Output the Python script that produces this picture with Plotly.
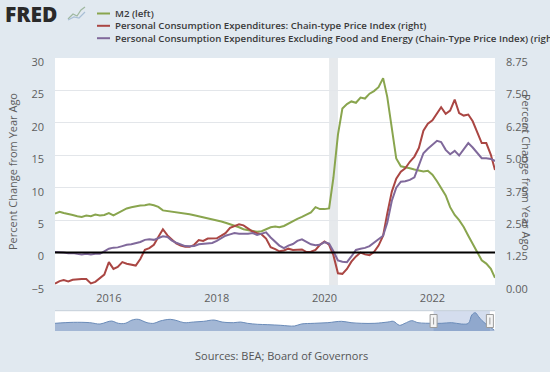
import pandas as pd
import plotly.graph_objects as go

# ---------------- data ----------------
dates = pd.date_range("2015-01-01", "2023-03-01", freq="MS")

m2_yoy = [
    6.0, 6.3, 6.1, 6.0, 5.8, 5.6, 5.5, 5.7, 5.6, 5.85, 5.7, 5.8,
    6.1, 5.75, 6.1, 6.4, 6.8, 7.0, 7.15, 7.25, 7.3, 7.45, 7.3, 7.05,
    6.5, 6.4, 6.4, 6.3, 6.2, 6.0, 5.9, 5.75, 5.6, 5.5, 5.3, 5.1,
    5.0, 4.8, 4.6, 4.4, 4.2, 3.9, 3.6, 3.5, 3.3, 3.2, 3.3, 3.6,
    3.9, 4.0, 3.9, 4.1, 4.5, 4.9, 5.2, 5.5, 5.8, 6.2, 7.0, 6.7,
    6.7, 6.8, 11.5, 18.2, 22.2, 22.9, 23.3, 23.1, 23.9, 23.75, 24.5, 24.9,
    25.5, 26.9, 24.0, 19.0, 14.5, 13.3, 13.2, 13.0, 12.8, 12.6, 12.5, 12.6,
    12.0, 11.0, 10.0, 8.8, 7.0, 5.8, 5.0, 3.95, 2.6, 1.3, 0.0, -1.2,
    -1.7, -2.5, -3.9,
]

pce_yoy = [
    0.05, 0.15, 0.19, 0.14, 0.20, 0.23, 0.23, 0.23, 0.06, 0.12, 0.25, 0.40,
    0.88, 0.62, 0.70, 0.88, 0.82, 0.79, 0.75, 1.00, 1.36, 1.42, 1.55, 1.85,
    2.15, 1.91, 1.75, 1.60, 1.52, 1.47, 1.47, 1.55, 1.73, 1.70, 1.79, 1.79,
    1.80, 1.90, 2.00, 2.20, 2.27, 2.34, 2.30, 2.17, 2.06, 2.00, 1.95, 1.79,
    1.46, 1.38, 1.30, 1.33, 1.40, 1.35, 1.37, 1.37, 1.27, 1.28, 1.35, 1.55,
    1.68, 1.55, 1.15, 0.45, 0.43, 0.62, 0.90, 1.10, 1.25, 1.18, 1.15, 1.27,
    1.52, 1.90, 2.75, 3.60, 4.10, 4.37, 4.50, 4.75, 4.95, 5.28, 5.95, 6.22,
    6.35, 6.60, 6.85, 6.60, 6.72, 7.15, 6.63, 6.53, 6.57, 6.31, 5.86, 5.47,
    5.47, 5.02, 4.43,
]

core_pce_yoy = [
    1.27, 1.27, 1.25, 1.22, 1.23, 1.20, 1.18, 1.20, 1.18, 1.20, 1.20, 1.30,
    1.40, 1.44, 1.45, 1.50, 1.55, 1.57, 1.60, 1.66, 1.74, 1.76, 1.74, 1.80,
    1.88, 1.85, 1.72, 1.63, 1.57, 1.50, 1.49, 1.50, 1.57, 1.58, 1.60, 1.62,
    1.70, 1.80, 1.90, 1.95, 2.00, 1.98, 1.97, 1.98, 2.00, 1.93, 1.98, 2.03,
    1.83, 1.65, 1.52, 1.42, 1.52, 1.58, 1.70, 1.76, 1.65, 1.57, 1.53, 1.55,
    1.65, 1.60, 1.30, 0.95, 0.90, 0.88, 1.10, 1.35, 1.40, 1.43, 1.50, 1.63,
    1.75, 1.90, 2.40, 3.25, 3.75, 3.98, 4.00, 4.05, 4.15, 4.63, 5.08, 5.25,
    5.40, 5.56, 5.51, 5.21, 5.04, 5.17, 4.99, 5.21, 5.47, 5.30, 5.08, 4.89,
    4.89, 4.86, 4.78,
]

recession = ["2020-02-01", "2020-04-01"]

# navigator (long M2 history silhouette)
nav_years = [1959.5, 1962.2, 1964.6, 1966.1, 1967.1, 1967.8, 1968.8, 1969.8, 1970.8, 1971.7,
             1973.0, 1974.0, 1974.9, 1976.4, 1977.4, 1978.4, 1979.8, 1981.3, 1982.8, 1984.0,
             1985.7, 1986.7, 1987.7, 1989.2, 1990.7, 1992.6, 1994.6, 1995.6, 1997.5, 1999.5,
             2001.5, 2002.9, 2004.4, 2006.4, 2008.3, 2009.1, 2010.0, 2010.8, 2011.8, 2012.7,
             2015.0, 2016.2, 2017.65, 2019.1, 2020.1, 2020.6, 2021.1, 2021.6, 2022.1, 2023.05,
             2023.9]
nav_values = [8.6, 10.3, 9.7, 7.4, 10.8, 12.5, 8.6, 8.6, 14.2, 15.4,
              9.7, 8.6, 12.5, 15.4, 13.1, 9.7, 10.8, 12.0, 14.2, 10.8,
              9.7, 10.8, 8.6, 6.9, 6.3, 5.2, 4.0, 7.4, 8.6, 9.7,
              12.0, 9.7, 8.6, 8.6, 10.8, 12.0, 5.2, 8.6, 13.1, 9.7,
              8.6, 8.6, 9.7, 7.4, 8.6, 22.8, 26.7, 19.9, 13.1, 4.0,
              -2.8]
nav_range = [1959.5, 2024.0]
nav_selected = [2015.0, 2023.25]
nav_yrange = [-4.5, 30.1]

left_ticks = [-5, 0, 5, 10, 15, 20, 25, 30]
right_ticks = [0.0, 1.25, 2.5, 3.75, 5.0, 6.25, 7.5, 8.75]

names = [
    "M2 (left)",
    "Personal Consumption Expenditures: Chain-type Price Index (right)",
    "Personal Consumption Expenditures Excluding Food and Energy (Chain-Type Price Index) (right)",
]
colors = ["#89A54E", "#AA4643", "#80699B"]

# ---------------- layout geometry ----------------
W, H = 550, 372
ML, MR, MT, MB = 55, 55, 58, 41
PW, PH = W - ML - MR, H - MT - MB


def px(xp):
    return (xp - ML) / PW


def py(yp):
    return (H - MB - yp) / PH


main_bottom = py(285)
nav_top = py(310.7)

BG = "#e1e9f0"
FONT = "Open Sans"

fig = go.Figure()

fig.add_trace(go.Scatter(x=dates, y=m2_yoy, name=names[0], mode="lines",
                         line=dict(color=colors[0], width=2), xaxis="x", yaxis="y"))
fig.add_trace(go.Scatter(x=dates, y=pce_yoy, name=names[1], mode="lines",
                         line=dict(color=colors[1], width=2), xaxis="x", yaxis="y2"))
fig.add_trace(go.Scatter(x=dates, y=core_pce_yoy, name=names[2], mode="lines",
                         line=dict(color=colors[2], width=2), xaxis="x", yaxis="y2"))

# navigator
fig.add_trace(go.Scatter(x=nav_years, y=[nav_yrange[0]] * len(nav_years), mode="lines",
                         line=dict(width=0, color="rgba(0,0,0,0)"), xaxis="x2", yaxis="y3",
                         hoverinfo="skip"))
fig.add_trace(go.Scatter(x=nav_years, y=nav_values, mode="lines", fill="tonexty",
                         fillcolor="rgba(88,124,178,0.55)", line=dict(color="#6a8bb8", width=1),
                         line_shape="spline", xaxis="x2", yaxis="y3", hoverinfo="skip"))

tickfont = dict(family=FONT, size=11, color="#5e5e5e")

fig.update_layout(
    width=W, height=H,
    margin=dict(l=ML, r=MR, t=MT, b=MB),
    paper_bgcolor=BG, plot_bgcolor="white",
    showlegend=False,
    font=dict(family=FONT),
    xaxis=dict(type="date", domain=[0, 1], anchor="y",
               range=["2015-01-01", "2023-03-01"],
               tick0="2016-01-01", dtick="M24", tickformat="%Y",
               showgrid=False, zeroline=False, showline=False, ticks="",
               tickfont=tickfont, ticklabelstandoff=5, automargin=False),
    yaxis=dict(domain=[main_bottom, 1], range=[-5, 30], tickvals=left_ticks,
               showgrid=True, gridcolor="#e3e6ea", gridwidth=1, zeroline=False,
               tickfont=tickfont, ticklabelshift=4, ticklabelstandoff=10, automargin=False),
    yaxis2=dict(overlaying="y", side="right", anchor="x", range=[0, 8.75],
                tickvals=right_ticks, tickformat=".2f", showgrid=False, zeroline=False,
                tickfont=tickfont, ticklabelshift=4, ticklabelstandoff=10, automargin=False),
    xaxis2=dict(domain=[0, 1], anchor="y3", range=nav_range, visible=False),
    yaxis3=dict(domain=[0, nav_top], range=nav_yrange, visible=False),
)

shapes = []
# recession shading
shapes.append(dict(type="rect", xref="x", yref="y domain", x0=recession[0], x1=recession[1],
                   y0=0, y1=1, fillcolor="#e6e9ec", line=dict(width=0), layer="below"))
# zero line
shapes.append(dict(type="line", xref="x domain", yref="y", x0=0, x1=1, y0=0, y1=0,
                   line=dict(color="black", width=2), layer="above"))
# navigator selection mask
shapes.append(dict(type="rect", xref="x2", yref="paper", x0=nav_selected[0], x1=nav_selected[1],
                   y0=0, y1=nav_top, fillcolor="rgba(102,133,194,0.28)", line=dict(width=0),
                   layer="below"))
# navigator top border
shapes.append(dict(type="line", xref="paper", yref="paper", x0=0, x1=1, y0=nav_top, y1=nav_top,
                   line=dict(color="#c5cfd9", width=1)))
# navigator handles
for hx in nav_selected:
    shapes.append(dict(type="rect", xref="x2", yref="paper", xsizemode="pixel", ysizemode="pixel",
                       xanchor=hx, yanchor=py(321), x0=-3.5, x1=3.5, y0=-6.5, y1=6.5,
                       fillcolor="#f4f4f4", line=dict(color="#9a9a9a", width=1)))
    shapes.append(dict(type="line", xref="x2", yref="paper", xsizemode="pixel", ysizemode="pixel",
                       xanchor=hx, yanchor=py(321), x0=0, x1=0, y0=-3.5, y1=3.5,
                       line=dict(color="#9a9a9a", width=1)))

# legend line samples
legend_rows = [13.5, 25.8, 38.2]
for yp, c in zip(legend_rows, colors):
    shapes.append(dict(type="line", xref="paper", yref="paper", x0=px(97), x1=px(110),
                       y0=py(yp), y1=py(yp), line=dict(color=c, width=2)))

# FRED logo icon (small chart glyph)
shapes.append(dict(type="path", xref="paper", yref="paper",
                   path="M {} {} L {} {} L {} {} L {} {} L {} {}".format(
                       px(68), py(19), px(73), py(14), px(77), py(16), px(81), py(10), px(85), py(7)),
                   line=dict(color="#9fb8a0", width=1.2)))
shapes.append(dict(type="path", xref="paper", yref="paper",
                   path="M {} {} L {} {} L {} {} L {} {}".format(
                       px(68), py(20), px(74), py(17), px(79), py(18), px(85), py(12)),
                   line=dict(color="#a9bfd6", width=1.2)))

fig.update_layout(shapes=shapes)

ann = []
ann.append(dict(text="FRED", xref="paper", yref="paper", x=px(3), y=py(14), xanchor="left",
                yanchor="middle", showarrow=False,
                font=dict(family=FONT, size=21, color="#2a2a2a", weight=800)))
for yp, name in zip(legend_rows, names):
    ann.append(dict(text=name, xref="paper", yref="paper", x=px(113), y=py(yp), xanchor="left",
                    yanchor="middle", showarrow=False,
                    font=dict(family=FONT, size=9.7, color="#3a3a3a", weight=600)))
ann.append(dict(text="Percent Change from Year Ago", xref="paper", yref="paper",
                x=px(12), y=py(172), textangle=-90, showarrow=False,
                xanchor="center", yanchor="middle",
                font=dict(family=FONT, size=11, color="#5e5e5e")))
ann.append(dict(text="Percent Change from Year Ago", xref="paper", yref="paper",
                x=px(527), y=py(172), textangle=90, showarrow=False,
                xanchor="center", yanchor="middle",
                font=dict(family=FONT, size=11, color="#5e5e5e")))
ann.append(dict(text="Sources: BEA; Board of Governors", xref="paper", yref="paper",
                x=px(281), y=py(355), showarrow=False, xanchor="center", yanchor="middle",
                font=dict(family=FONT, size=11, color="#555555")))
fig.update_layout(annotations=ann)

fig.write_html("out.html",
               config={"displayModeBar": False},
               post_script="document.body.style.margin='0px';document.body.style.overflow='hidden';")
